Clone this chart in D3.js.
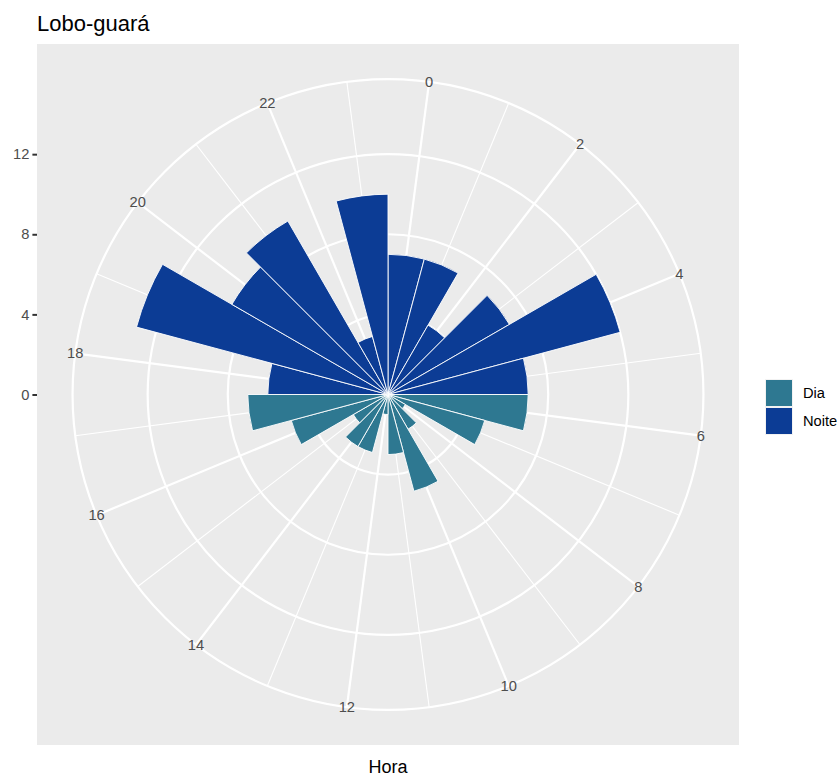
<!DOCTYPE html>
<html>
<head>
<meta charset="utf-8">
<script src="https://cdn.jsdelivr.net/npm/d3@7"></script>
<style>
  html, body { margin: 0; padding: 0; background: #ffffff; }
  svg { display: block; font-family: "Liberation Sans", Arial, Helvetica, sans-serif; }
</style>
</head>
<body>
<svg id="chart" width="839" height="778"></svg>
<script>
// Activity records per hour of the day
const hours   = [0, 1, 2, 3, 4, 5, 6, 7, 8, 9, 10, 11, 12, 13, 14, 15, 16, 17, 18, 19, 20, 21, 22, 23];
const counts  = [7, 7, 4, 7, 12, 7, 7, 5, 1, 2, 5, 3, 1, 3, 3, 2, 5, 7, 6, 13, 9, 10, 3, 10];
const periods = ["Noite","Noite","Noite","Noite","Noite","Noite",
                 "Dia","Dia","Dia","Dia","Dia","Dia","Dia","Dia","Dia","Dia","Dia","Dia",
                 "Noite","Noite","Noite","Noite","Noite","Noite"];

const periodNames  = ["Dia", "Noite"];
const periodColors = ["#2E7891", "#0C3C95"];

const hourBreaks  = [0, 2, 4, 6, 8, 10, 12, 14, 16, 18, 20, 22];
const hourMinor   = [1, 3, 5, 7, 9, 11, 13, 15, 17, 19, 21, 23];
const countBreaks = [0, 4, 8, 12];

const titleText = "Lobo-guará";
const xTitle    = "Hora";

const svg = d3.select("#chart");

// panel geometry
const panel = { x: 37, y: 44, w: 702, h: 701 };
const cx = panel.x + panel.w / 2;
const cy = panel.y + panel.h / 2;
const size = Math.min(panel.w, panel.h);
const rMax = 0.4 * size;     // radius of the data range
const rOuter = 0.45 * size;  // outer ring / hour labels

const theta = d3.scaleLinear().domain([-0.5, 23.5]).range([0, 2 * Math.PI]);
const r = d3.scaleLinear().domain([0, 14]).range([0, rMax]);
const color = d3.scaleOrdinal().domain(periodNames).range(periodColors);

// panel background
svg.append("rect")
  .attr("x", panel.x).attr("y", panel.y)
  .attr("width", panel.w).attr("height", panel.h)
  .attr("fill", "#EBEBEB");

const g = svg.append("g").attr("transform", `translate(${cx},${cy})`);

// angular grid lines
function spoke(sel, values, width) {
  sel.selectAll(null).data(values).enter().append("line")
    .attr("x1", 0).attr("y1", 0)
    .attr("x2", d => rOuter * Math.sin(theta(d)))
    .attr("y2", d => -rOuter * Math.cos(theta(d)))
    .attr("stroke", "#ffffff")
    .attr("stroke-width", width);
}
spoke(g.append("g"), hourMinor, 1.1);
spoke(g.append("g"), hourBreaks, 2.2);

// radial grid circles
g.append("g").selectAll("circle")
  .data(countBreaks.filter(d => d > 0).map(d => r(d)).concat([rOuter]))
  .enter().append("circle")
  .attr("r", d => d)
  .attr("fill", "none")
  .attr("stroke", "#ffffff")
  .attr("stroke-width", 2.2);

// bars
const arc = d3.arc()
  .innerRadius(0)
  .outerRadius(d => r(d.value))
  .startAngle(d => theta(d.hour - 0.5))
  .endAngle(d => theta(d.hour + 0.5));

const bars = hours.map((h, i) => ({ hour: h, value: counts[i], period: periods[i] }));

g.append("g").selectAll("path")
  .data(bars)
  .enter().append("path")
  .attr("d", arc)
  .attr("fill", d => color(d.period))
  .attr("stroke", "#ffffff")
  .attr("stroke-width", 0.9)
  .attr("stroke-linejoin", "miter");

// hour labels on the outer ring
g.append("g").selectAll("text")
  .data(hourBreaks)
  .enter().append("text")
  .attr("x", d => rOuter * Math.sin(theta(d)))
  .attr("y", d => -rOuter * Math.cos(theta(d)))
  .attr("text-anchor", "middle")
  .attr("dominant-baseline", "central")
  .attr("font-size", 14.7)
  .attr("fill", "#4D4D4D")
  .text(d => d);

// radial axis on the left edge of the panel
const yAxis = d3.axisLeft(d3.scaleLinear().domain([0, 14]).range([cy, cy - rMax]))
  .tickValues(countBreaks)
  .tickSize(4.6)
  .tickPadding(3);
const ya = svg.append("g").attr("transform", `translate(${panel.x},0)`).call(yAxis);
ya.select(".domain").remove();
ya.selectAll(".tick line").attr("stroke", "#333333").attr("stroke-width", 2);
ya.selectAll(".tick text")
  .attr("font-size", 14.7)
  .attr("fill", "#4D4D4D")
  .attr("font-family", "Liberation Sans, Arial, sans-serif");

// title
svg.append("text")
  .attr("x", 37).attr("y", 31)
  .attr("font-size", 22)
  .attr("fill", "#000000")
  .text(titleText);

// x axis title
svg.append("text")
  .attr("x", cx).attr("y", 773)
  .attr("text-anchor", "middle")
  .attr("font-size", 18)
  .attr("fill", "#000000")
  .text(xTitle);

// legend
const legend = svg.append("g").attr("transform", "translate(765,379)");
const keySize = 28;
const items = legend.selectAll("g").data(periodNames).enter().append("g")
  .attr("transform", (d, i) => `translate(0,${i * keySize})`);
items.append("rect")
  .attr("width", keySize).attr("height", keySize)
  .attr("fill", "#F2F2F2");
items.append("rect")
  .attr("x", 1).attr("y", 1)
  .attr("width", keySize - 2).attr("height", keySize - 2)
  .attr("fill", d => color(d));
items.append("text")
  .attr("x", keySize + 10)
  .attr("y", keySize / 2)
  .attr("dominant-baseline", "central")
  .attr("font-size", 14.7)
  .attr("fill", "#000000")
  .text(d => d);
</script>
</body>
</html>
